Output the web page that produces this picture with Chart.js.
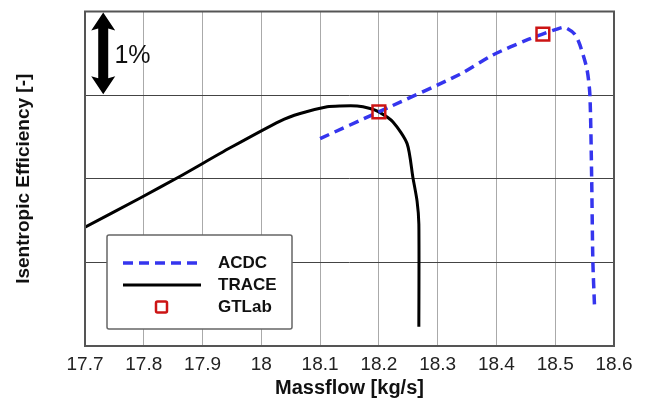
<!DOCTYPE html>
<html lang="en">
<head>
<meta charset="UTF-8">
<title>Isentropic Efficiency vs Massflow</title>
<script src="https://cdn.jsdelivr.net/npm/chart.js"></script>
<style>
    body { margin: 0; background: #fff; }
    .wrap { width: 650px; height: 403px; }
</style>
</head>
<body>
<div class="wrap"><canvas id="chart" width="650" height="403"></canvas></div>
<script>
    // TRACE (black solid)
    var traceX = [17.70, 17.794, 17.862, 17.947, 18.032, 18.066, 18.112, 18.134, 18.163, 18.185, 18.200, 18.224, 18.248, 18.258, 18.265, 18.268, 18.268];
    var traceY = [1.42, 1.77, 2.03, 2.37, 2.69, 2.78, 2.86, 2.87, 2.87, 2.84, 2.80, 2.68, 2.42, 2.01, 1.73, 1.46, 0.23];
    // ACDC (blue dashed)
    var acdcX = [18.100, 18.200, 18.338, 18.394, 18.452, 18.503, 18.516, 18.533, 18.542, 18.554, 18.559, 18.562, 18.564, 18.567];
    var acdcY = [2.48, 2.80, 3.25, 3.48, 3.66, 3.79, 3.81, 3.73, 3.60, 3.31, 3.00, 2.01, 1.02, 0.45];
    // GTLab points
    var gtlabX = [18.200, 18.479];
    var gtlabY = [2.80, 3.73];

    var xTicks = [17.7, 17.8, 17.9, 18.0, 18.1, 18.2, 18.3, 18.4, 18.5, 18.6];

    function pts(xs, ys) {
        return xs.map(function (x, i) { return { x: x, y: ys[i] }; });
    }

    // frame around the plot area
    var frame = {
        id: 'frame',
        afterDatasetsDraw: function (chart) {
            var a = chart.chartArea, c = chart.ctx;
            c.save();
            c.strokeStyle = '#555';
            c.lineWidth = 2;
            c.strokeRect(a.left, a.top, a.right - a.left, a.bottom - a.top);
            c.restore();
        }
    };

    // double arrow with "1%" label
    var arrow = {
        id: 'arrow',
        afterDatasetsDraw: function (chart) {
            var c = chart.ctx, xs = chart.scales.x, ys = chart.scales.y;
            var x = xs.getPixelForValue(17.731);
            var y1 = ys.getPixelForValue(4) + 1, y2 = ys.getPixelForValue(3) - 1;
            var hw = 12, hl = 18, sw = 5;
            c.save();
            c.fillStyle = '#000';
            c.beginPath();
            c.moveTo(x, y1);
            c.lineTo(x + hw, y1 + hl);
            c.lineTo(x + sw, y1 + hl - 2);
            c.lineTo(x + sw, y2 - hl + 2);
            c.lineTo(x + hw, y2 - hl);
            c.lineTo(x, y2);
            c.lineTo(x - hw, y2 - hl);
            c.lineTo(x - sw, y2 - hl + 2);
            c.lineTo(x - sw, y1 + hl - 2);
            c.lineTo(x - hw, y1 + hl);
            c.closePath();
            c.fill();
            c.font = '25px "Liberation Sans", Arial, sans-serif';
            c.textBaseline = 'middle';
            c.fillStyle = '#111';
            c.fillText('1%', xs.getPixelForValue(17.75), ys.getPixelForValue(3.47));
            c.restore();
        }
    };

    // legend box inside the plot
    var boxLegend = {
        id: 'boxLegend',
        afterDraw: function (chart) {
            var c = chart.ctx, a = chart.chartArea;
            var bx = a.left + 22, by = 235, bw = 185, bh = 94;
            c.save();
            c.fillStyle = '#fff';
            c.strokeStyle = '#666';
            c.lineWidth = 1.5;
            c.beginPath();
            c.roundRect(bx, by, bw, bh, 2);
            c.fill();
            c.stroke();
            c.font = 'bold 17px "Liberation Sans", Arial, sans-serif';
            c.textBaseline = 'middle';
            chart.data.datasets.forEach(function (ds, i) {
                var y = by + 28 + i * 22;
                if (ds.showLine === false) {
                    c.strokeStyle = ds.pointBorderColor;
                    c.lineWidth = ds.pointBorderWidth;
                    c.beginPath();
                    c.roundRect(bx + 49, y - 5.5, 11, 11, 1.5);
                    c.stroke();
                } else {
                    c.strokeStyle = ds.borderColor;
                    c.lineWidth = ds.borderWidth;
                    c.setLineDash(ds.borderDash || []);
                    c.beginPath();
                    c.moveTo(bx + 16, y);
                    c.lineTo(bx + 94, y);
                    c.stroke();
                    c.setLineDash([]);
                }
                c.fillStyle = '#111';
                c.fillText(ds.label, bx + 111, y);
            });
            c.restore();
        }
    };

    new Chart(document.getElementById('chart'), {
        type: 'scatter',
        data: {
            datasets: [{
                label: 'ACDC',
                data: pts(acdcX, acdcY),
                showLine: true,
                borderColor: '#3535ee',
                borderWidth: 3.5,
                borderDash: [10, 6],
                tension: 0.25,
                pointRadius: 0,
                order: 2
            }, {
                label: 'TRACE',
                data: pts(traceX, traceY),
                showLine: true,
                borderColor: '#000',
                borderWidth: 3,
                tension: 0.25,
                pointRadius: 0,
                order: 3
            }, {
                label: 'GTLab',
                data: pts(gtlabX, gtlabY),
                showLine: false,
                pointStyle: 'rect',
                pointRadius: 9,
                pointBackgroundColor: 'rgba(0,0,0,0)',
                pointBorderColor: '#cc1414',
                pointBorderWidth: 2.5,
                order: 1
            }]
        },
        options: {
            responsive: false,
            animation: false,
            layout: { padding: { top: 9, right: 36, left: 0, bottom: 0 } },
            plugins: {
                legend: { display: false },
                tooltip: { enabled: false }
            },
            scales: {
                x: {
                    type: 'linear',
                    min: 17.7,
                    max: 18.6,
                    afterFit: function (s) { s.height = 57; },
                    afterBuildTicks: function (s) {
                        s.ticks = xTicks.map(function (v) { return { value: v }; });
                    },
                    ticks: {
                        padding: 7,
                        color: '#222',
                        font: { family: '"Liberation Sans", Arial, sans-serif', size: 19 },
                        maxRotation: 0,
                        callback: function (v) { return String(Number(v.toFixed(1))); }
                    },
                    grid: { color: '#aaa', lineWidth: 1, drawTicks: false },
                    border: { display: false },
                    title: {
                        display: true,
                        text: 'Massflow [kg/s]',
                        color: '#111',
                        font: { family: '"Liberation Sans", Arial, sans-serif', size: 20, weight: 'bold' },
                        padding: { top: 0, bottom: 3 }
                    }
                },
                y: {
                    min: 0,
                    max: 4,
                    afterFit: function (s) { s.width = 85; },
                    ticks: { display: false, stepSize: 1 },
                    grid: { color: '#444', lineWidth: 1, drawTicks: false },
                    border: { display: false },
                    title: {
                        display: true,
                        text: 'Isentropic Efficiency [-]',
                        color: '#111',
                        font: { family: '"Liberation Sans", Arial, sans-serif', size: 19, weight: 'bold' },
                        padding: { top: 12, bottom: 0 }
                    }
                }
            }
        },
        plugins: [frame, arrow, boxLegend]
    });
</script>
</body>
</html>
